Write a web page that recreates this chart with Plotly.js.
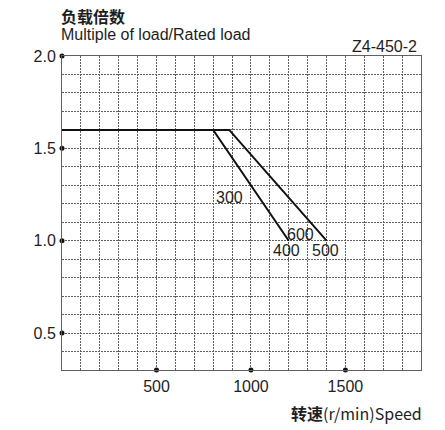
<!DOCTYPE html>
<html>
<head>
<meta charset="utf-8">
<script src="https://cdn.plot.ly/plotly-3.0.1.min.js"></script>
<style>html,body{margin:0;padding:0;background:#fff;}#chart{width:445px;height:430px;}</style>
</head>
<body>
<div id="chart"></div>
<script>
// Data
const curveLowX = [0, 800, 1200];
const curveLowY = [1.6, 1.6, 1.0];
const curveHighX = [800, 885, 1400];
const curveHighY = [1.6, 1.6, 1.0];
const yTickVals = [0.5, 1.0, 1.5, 2.0];
const xTickVals = [500, 1000, 1500];
const labelText = ['300', '600', '400', '500'];
const labelX = [889, 1262, 1188, 1392];
const labelY = [1.235, 1.034, 0.945, 0.945];
const yTitleCn = '负载倍数';
const yTitleEn = 'Multiple of load/Rated load';
const modelText = 'Z4-450-2';
const xTitleCn = '转速';
const xTitleEn = '(r/min)Speed';

const font = 'Liberation Sans, Arial, sans-serif';
const cjk = 'Noto Sans CJK SC, Liberation Sans, sans-serif';
const gridCol = '#606060';
const txt = '#1e1e1e';

const traces = [
  {x: curveLowX, y: curveLowY, mode: 'lines', line: {color: '#111', width: 2}, hoverinfo: 'none'},
  {x: curveHighX, y: curveHighY, mode: 'lines', line: {color: '#111', width: 2}, hoverinfo: 'none'},
  {x: yTickVals.map(() => 0), y: yTickVals, mode: 'markers', marker: {color: '#111', size: 5}, cliponaxis: false, hoverinfo: 'none'},
  {x: xTickVals, y: xTickVals.map(() => 0.3), mode: 'markers', marker: {color: '#111', size: 5}, cliponaxis: false, hoverinfo: 'none'}
];

const annotations = labelText.map((t, i) => ({
  x: labelX[i], y: labelY[i], xref: 'x', yref: 'y', text: t, showarrow: false,
  font: {family: font, size: 16, color: txt}
}));
annotations.push(
  {xref: 'paper', yref: 'paper', x: -0.008, y: 1.127, xanchor: 'left', yanchor: 'middle', text: '<b>' + yTitleCn + '</b>', showarrow: false, font: {family: cjk, size: 16, color: txt}},
  {xref: 'paper', yref: 'paper', x: -0.008, y: 1.067, xanchor: 'left', yanchor: 'middle', text: yTitleEn, showarrow: false, font: {family: font, size: 16, color: txt}},
  {xref: 'paper', yref: 'paper', x: 0.994, y: 1.029, xanchor: 'right', yanchor: 'middle', text: modelText, showarrow: false, font: {family: font, size: 16, color: txt}},
  {xref: 'paper', yref: 'paper', x: 1.008, y: -0.137, xanchor: 'right', yanchor: 'middle', text: '<b>' + xTitleCn + '</b>' + xTitleEn, showarrow: false, font: {family: cjk, size: 16, color: txt}}
);

const layout = {
  width: 445, height: 430,
  margin: {l: 62, r: 24, t: 56, b: 60},
  paper_bgcolor: '#fff', plot_bgcolor: '#fff',
  showlegend: false,
  xaxis: {
    range: [0, 1900], tickmode: 'array', tickvals: xTickVals, ticktext: xTickVals.map(String),
    showgrid: false, zeroline: false, showline: true, mirror: true, linecolor: gridCol, linewidth: 1,
    ticks: '', ticklabelstandoff: 2, tickfont: {family: font, size: 16, color: txt},
    minor: {dtick: 100, tick0: 0, showgrid: true, gridcolor: gridCol, griddash: '2px,1px', gridwidth: 1, ticks: ''}
  },
  yaxis: {
    range: [0.3, 2.0], tickmode: 'array', tickvals: yTickVals, ticktext: yTickVals.map(v => v.toFixed(1)),
    showgrid: false, zeroline: false, showline: true, mirror: true, linecolor: gridCol, linewidth: 1,
    ticks: '', ticklabelstandoff: 2, tickfont: {family: font, size: 16, color: txt},
    minor: {dtick: 0.1, tick0: 0, showgrid: true, gridcolor: gridCol, griddash: '2px,1px', gridwidth: 1, ticks: ''}
  },
  annotations: annotations
};

Plotly.newPlot('chart', traces, layout, {staticPlot: true, displayModeBar: false});
</script>
</body>
</html>
